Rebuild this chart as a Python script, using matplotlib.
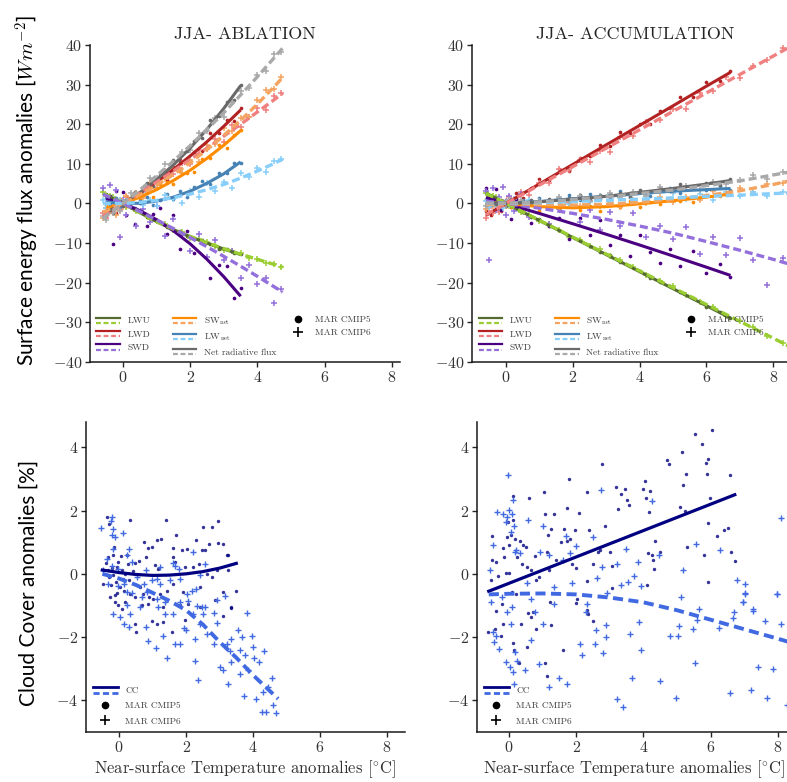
import matplotlib.pyplot as plt
from matplotlib.lines import Line2D
from matplotlib.legend_handler import HandlerBase

# ── Style ─────────────────────────────────────────────────────────────
plt.rcParams.update({
    "font.family": "serif",
    "font.serif": ["cmr10"],
    "mathtext.fontset": "cm",
    "axes.formatter.use_mathtext": True,
    "axes.unicode_minus": True,
    "text.color": "0.2",
    "axes.labelcolor": "0.2",
    "xtick.labelcolor": "0.2",
    "ytick.labelcolor": "0.2",
    "xtick.color": "0.15",
    "ytick.color": "0.15",
    "axes.edgecolor": "0.1",
})

# ── Data: near-surface temperature anomalies (°C) ─────────────────────
abl5_t = [-0.5, -0.4, -0.3, -0.2, -0.1, 0.0, 0.1, 0.2, 0.35, 0.5, 0.7, 0.9, 1.1, 1.3, 1.5, 1.7,
          1.9, 2.1, 2.35, 2.6, 2.85, 3.1, 3.3, 3.5]
abl6_t = [-0.6, -0.5, -0.4, -0.3, -0.2, -0.1, 0.0, 0.1, 0.25, 0.4, 0.6, 0.8, 1.0, 1.25, 1.5, 1.75,
          2.0, 2.25, 2.5, 2.75, 3.0, 3.25, 3.5, 3.75, 4.0, 4.25, 4.5, 4.7]
acc5_t = [-0.6, -0.45, -0.3, -0.15, 0.0, 0.15, 0.3, 0.5, 0.75, 1.0, 1.3, 1.6, 1.9, 2.2, 2.5, 2.8,
          3.1, 3.4, 3.7, 4.0, 4.3, 4.6, 4.9, 5.2, 5.6, 6.0, 6.4, 6.7]
acc6_t = [-0.6, -0.5, -0.4, -0.3, -0.2, -0.1, 0.0, 0.1, 0.25, 0.45, 0.7, 1.0, 1.3, 1.6, 1.9, 2.2,
          2.5, 2.8, 3.1, 3.4, 3.8, 4.2, 4.6, 5.0, 5.4, 5.8, 6.2, 6.6, 7.0, 7.4, 7.8, 8.3]

# ── Surface energy flux anomalies (W m-2), ablation zone ──────────────
abl5_lwu = [2.5, 1.6, 1.45, 0.5, 0.65, 0.0, -0.75, -0.5, -1.7, -2.1, -3.5, -4.0, -4.7, -6.0, -6.6,
            -6.9, -8.15, -9.0, -9.3, -10.2, -11.45, -11.5, -12.45, -12.7]
abl5_lwd = [-3.2, -0.8, -1.1, -2.3, 0.4, -0.2, 2.0, 0.4, 2.1, 1.6, 4.9, 4.5, 6.8, 5.9, 9.1, 10.9,
            10.4, 12.9, 13.3, 17.7, 17.8, 21.1, 20.9, 24.0]
abl5_swd = [-2.3, 2.0, -10.1, 3.1, -0.7, 3.0, -2.8, 0.9, -5.2, 0.2, -5.6, -2.6, -1.1, -7.7, -2.9,
            -11.6, -7.0, -12.4, -9.9, -18.9, -15.6, -15.9, -23.8, -21.4]
abl5_swn = [-0.3, -2.2, -0.3, -1.2, 1.1, -0.3, -0.7, 1.4, 2.3, 1.1, 2.6, 1.7, 4.9, 5.4, 4.9, 8.1,
            7.6, 7.9, 11.2, 11.4, 14.8, 14.1, 17.3, 18.6]
abl5_lwn = [1.4, -0.3, 0.6, 1.4, -0.85, 0.7, -0.3, 1.1, -1.2, 0.55, 1.6, -0.4, 0.95, 2.3, 1.2, 3.05,
            1.7, 4.1, 5.7, 4.8, 7.6, 7.6, 10.3, 10.3]
abl5_net = [-2.65, -1.0, -2.5, -0.65, 0.7, -0.7, 1.0, -0.25, 2.8, 2.55, 5.1, 4.4, 7.1, 7.6, 11.05,
            10.4, 13.3, 15.8, 16.5, 21.0, 22.1, 25.7, 26.2, 29.85]

abl6_lwu = [2.8, 1.87, 1.83, 1.7, 0.67, 0.73, -0.1, -0.86, -0.95, -1.84, -2.46, -3.98, -4.5, -5.15,
            -6.7, -7.2, -8.7, -9.0, -9.6, -10.75, -11.7, -11.9, -12.4, -13.65, -14.0, -15.05, -15.2,
            -16.05]
abl6_lwd = [-2.4, -3.6, -0.8, -2.0, -0.5, -1.7, 0.2, 1.6, 0.6, 2.55, 1.9, 5.2, 5.1, 8.2, 7.4, 10.2,
            10.0, 13.6, 13.8, 16.2, 15.6, 19.7, 19.4, 21.8, 24.2, 23.7, 27.0, 27.9]
abl6_swd = [3.85, -0.04, 4.58, 0.19, 3.29, -8.4, 1.0, -2.9, 0.99, -5.62, -1.45, -4.8, -0.65, -8.23,
            -3.84, -7.96, -12.1, -7.76, -13.44, -9.13, -14.35, -12.08, -18.84, -15.61, -20.4,
            -18.71, -25.04, -21.61]
abl6_swn = [-3.7, -1.1, -1.9, 0.0, -2.8, 0.1, -0.9, 1.8, 0.75, 2.6, 1.4, 5.2, 4.0, 6.1, 8.6, 7.8,
            11.0, 10.4, 14.7, 14.9, 19.0, 18.2, 21.5, 21.7, 26.0, 28.7, 28.8, 31.9]
abl6_lwn = [0.86, -1.26, 0.34, 1.24, -0.65, 0.97, -0.3, 0.64, -0.99, 1.6, -0.45, 0.84, -0.74, 2.18,
            1.06, 0.09, 3.17, 1.6, 5.09, 3.24, 5.33, 3.98, 7.59, 6.74, 9.05, 8.02, 10.73, 11.2]
abl6_net = [-3.2, -4.1, -1.5, -2.35, -0.5, -1.9, 0.3, 0.1, 2.7, 2.5, 3.0, 6.4, 6.45, 10.0, 9.9,
            13.0, 13.6, 17.7, 18.4, 21.5, 21.8, 25.65, 28.3, 29.1, 32.3, 33.5, 37.6, 38.35]

# ── Surface energy flux anomalies (W m-2), accumulation zone ──────────
acc5_lwu = [2.8, 1.8, 1.6, 0.45, 0.1, -0.95, -1.1, -2.15, -3.45, -4.0, -5.7, -6.8, -8.5, -9.25,
            -10.65, -12.25, -13.0, -14.7, -15.9, -17.0, -18.8, -19.7, -20.9, -22.45, -23.8, -26.0,
            -27.4, -28.9]
acc5_lwd = [-1.8, -3.0, -1.0, -2.0, 0.9, 0.3, 2.6, 1.5, 4.0, 6.3, 5.8, 8.7, 8.2, 11.45, 12.0, 14.8,
            14.4, 18.1, 17.7, 20.1, 20.1, 23.4, 24.0, 26.8, 26.8, 30.6, 30.9, 33.5]
acc5_swd = [4.0, -0.4, 3.75, -1.6, 1.0, -3.9, 1.25, -2.26, -4.9, -1.0, -5.8, -3.6, -8.9, -3.65,
            -7.9, -4.2, -10.5, -7.85, -13.2, -8.0, -12.3, -15.1, -11.5, -15.8, -11.9, -17.6, -15.2,
            -18.6]
acc5_swn = [1.1, -0.4, 1.15, -0.2, 0.5, -1.0, 0.16, -0.6, 0.1, -1.8, -0.6, -1.5, -0.2, -1.7, -0.75,
            -2.0, -0.1, -0.9, 0.7, -0.9, 0.45, -0.2, 1.4, 0.6, 0.35, 2.1, 1.8, 2.8]
acc5_lwn = [0.8, -0.33, 0.95, -0.78, 0.3, 1.08, -0.35, 0.85, 0.18, 1.4, 0.0, 1.3, 2.2, 1.0, 2.3,
            1.1, 2.4, 3.1, 1.9, 3.2, 1.8, 3.2, 3.8, 2.7, 4.3, 3.3, 4.3, 3.5]
acc5_net = [-0.3, 0.75, -0.2, 0.85, -0.6, 0.46, -0.68, 0.4, 1.0, 0.0, 1.11, 0.12, 1.33, 2.04, 1.25,
            2.26, 1.4, 2.6, 1.7, 3.5, 2.8, 3.9, 3.1, 4.8, 4.06, 5.2, 4.7, 6.28]

acc6_lwu = [2.75, 1.83, 1.8, 1.58, 0.65, 0.43, 0.2, -0.53, -0.76, -2.21, -2.88, -4.45, -5.23, -6.8,
            -8.38, -9.15, -10.73, -11.6, -13.38, -14.35, -15.95, -18.15, -19.55, -20.95, -23.05,
            -24.85, -26.15, -28.35, -29.65, -31.15, -33.35, -35.18]
acc6_lwd = [-3.7, -1.1, -2.4, -0.6, -2.2, -0.1, -0.7, 1.6, 0.96, 3.0, 2.1, 5.15, 5.25, 8.7, 8.4,
            10.9, 10.5, 13.3, 13.0, 16.7, 17.1, 20.5, 21.1, 23.85, 23.9, 27.8, 28.3, 31.8, 31.65,
            34.8, 36.1, 39.2]
acc6_swd = [3.1, -14.3, 3.9, -1.7, 1.7, 4.1, -3.0, 1.88, -1.8, 2.46, -3.34, -0.2, -5.09, -1.48,
            0.13, -4.8, -1.75, -6.7, -2.17, -5.68, -2.36, -8.56, -5.78, -9.0, -5.84, -12.68, -8.54,
            -12.92, -8.8, -14.22, -20.6, -13.85]
acc6_swn = [-1.3, 0.35, -0.6, 0.95, -0.9, 0.25, -0.6, 0.87, -0.28, -1.24, 0.29, -1.0, -0.13, -1.26,
            0.41, -0.66, 0.7, -0.74, 0.25, -1.0, 0.9, 0.04, 1.62, 0.4, 1.7, 1.0, 3.24, 2.42, 3.8,
            2.94, 4.98, 5.15]
acc6_lwn = [0.6, -0.9, 1.0, -0.4, 0.8, -1.1, 0.3, -0.48, 1.25, -0.11, 0.84, -0.6, 0.69, 1.38,
            -0.13, 1.46, 0.35, 1.84, 0.13, 1.42, 0.04, 1.96, 0.88, 2.6, 1.06, 2.32, 0.96, 2.98, 1.9,
            2.96, 1.82, 2.9]
acc6_net = [-0.6, 0.58, -0.23, 0.95, -0.97, 0.42, -0.5, 0.84, -0.1, 0.78, -0.62, 0.7, -0.02, 1.76,
            0.54, 1.84, 0.55, 1.76, 2.68, 1.52, 2.94, 1.98, 4.04, 3.1, 4.34, 3.38, 5.54, 4.82, 6.0,
            7.3, 6.3, 8.05]

# ── Regression curves ─────────────────────────────────────────────────
abl5_fit_t = [-0.5, 0.0, 0.5, 1.0, 1.5, 2.0, 2.5, 3.0, 3.5]
abl5_lwu_fit = [2.2, 0.0, -2.3, -4.6, -6.6, -8.4, -10.0, -11.5, -12.9]
abl5_lwd_fit = [-2.4, 0.0, 2.6, 5.5, 8.6, 12.0, 15.6, 19.5, 23.6]
abl5_swd_fit = [1.2, 0.0, -1.8, -4.1, -6.9, -10.2, -14.1, -18.5, -23.4]
abl5_swn_fit = [-1.2, 0.0, 1.6, 3.5, 5.8, 8.4, 11.4, 14.7, 18.4]
abl5_lwn_fit = [0.4, 0.0, 0.05, 0.6, 1.6, 3.1, 5.1, 7.5, 10.5]
abl5_net_fit = [-2.25, 0.0, 2.75, 6.0, 9.75, 14.0, 18.75, 24.0, 29.75]

abl6_fit_t = [-0.6, 0.0, 0.5, 1.0, 1.5, 2.0, 2.5, 3.0, 3.5, 4.0, 4.5, 4.75]
abl6_lwu_fit = [2.6, 0.0, -2.3, -4.6, -6.5, -8.3, -9.9, -11.4, -12.8, -14.1, -15.4, -16.1]
abl6_lwd_fit = [-3.2, 0.0, 2.7, 5.4, 8.2, 11.1, 14.0, 17.0, 20.0, 23.1, 26.2, 27.8]
abl6_swd_fit = [2.35, 0.0, -2.04, -4.15, -6.34, -8.6, -10.94, -13.35, -15.84, -18.4, -21.04, -22.38]
abl6_swn_fit = [-2.2, 0.0, 2.2, 4.6, 7.3, 10.3, 13.6, 17.2, 21.0, 25.1, 29.5, 31.8]
abl6_lwn_fit = [0.0, 0.0, 0.27, 0.76, 1.46, 2.37, 3.5, 4.8, 6.4, 8.2, 10.1, 11.2]
abl6_net_fit = [-3.8, 0.0, 3.4, 7.0, 10.7, 14.6, 18.7, 22.9, 27.4, 32.0, 36.8, 39.2]

acc5_fit_t = [-0.6, 0.0, 1.0, 2.0, 3.0, 4.0, 5.0, 6.0, 6.72]
acc5_lwu_fit = [2.6, 0.0, -4.3, -8.6, -12.9, -17.2, -21.5, -25.8, -28.9]
acc5_lwd_fit = [-3.0, 0.0, 4.93, 9.86, 14.8, 19.7, 24.65, 29.6, 33.1]
acc5_swd_fit = [1.5, 0.0, -2.53, -5.12, -7.77, -10.48, -13.25, -16.08, -18.15]
acc5_swn_fit = [0.3, 0.0, -0.8, -1.1, -0.8, -0.1, 0.7, 1.6, 2.4]
acc5_lwn_fit = [0.1, 0.0, 0.5, 1.2, 1.8, 2.5, 3.1, 3.5, 3.8]
acc5_net_fit = [0.2, 0.0, 0.4, 1.1, 1.8, 2.8, 3.8, 4.9, 5.8]

acc6_fit_t = [-0.6, 0.0, 1.0, 2.0, 3.0, 4.0, 5.0, 6.0, 7.0, 8.0, 8.6]
acc6_lwu_fit = [2.55, 0.0, -4.25, -8.5, -12.75, -17.0, -21.25, -25.5, -29.75, -34.0, -36.55]
acc6_lwd_fit = [-2.8, 0.0, 4.65, 9.3, 13.95, 18.6, 23.25, 27.9, 32.55, 37.2, 40.0]
acc6_swd_fit = [0.6, 0.0, -1.2, -2.5, -4.0, -5.7, -7.5, -9.6, -11.8, -14.1, -15.6]
acc6_swn_fit = [-0.3, 0.0, -0.3, -0.4, -0.2, 0.3, 1.0, 2.0, 3.2, 4.8, 5.9]
acc6_lwn_fit = [0.0, 0.0, 0.2, 0.5, 0.8, 1.1, 1.4, 1.8, 2.1, 2.5, 2.7]
acc6_net_fit = [0.1, 0.0, 0.4, 1.0, 1.7, 2.5, 3.4, 4.5, 5.7, 7.2, 8.1]

# ── Cloud cover anomalies (%), (temperature, cloud cover) pairs ───────
cc_abl_cmip5 = [
    (-0.37, 1.81), (-0.29, 1.58), (0.31, 1.71), (1.40, 1.69), (2.94, 1.66), (2.77, 1.48),
    (2.52, 1.48), (1.70, 1.23), (2.30, 1.08), (1.14, 1.08), (1.24, 1.10), (0.73, 1.0),
    (0.87, 0.82), (0.97, 0.86), (-0.15, 0.86), (-0.17, 0.58), (-0.32, 0.53), (-0.47, -0.32),
    (-0.29, -0.11), (1.62, 0.82), (1.87, 0.76), (2.02, 0.79), (2.67, 0.95), (2.96, 0.97),
    (3.11, 0.93), (3.26, 0.58), (3.21, 0.61), (2.47, 0.74), (2.55, 0.76), (0.26, 0.32),
    (0.46, 0.34), (0.59, 0.42), (0.81, 0.53), (1.07, 0.28), (1.17, 0.16), (1.62, 0.53),
    (1.67, 0.37), (1.97, 0.21), (2.22, 0.23), (2.40, 0.32), (2.62, 0.0), (2.77, -0.11),
    (2.91, 0.13), (3.26, 0.11), (3.49, -0.53), (3.33, -1.08), (2.87, -0.84), (3.11, -0.58),
    (0.03, -0.42), (0.13, -0.53), (0.33, -0.63), (0.63, -0.42), (0.88, -0.74), (1.22, -0.63),
    (1.42, -0.53), (1.62, -0.32), (1.92, -0.58), (2.07, -0.95), (2.42, -0.42), (-0.17, -0.05),
    (-0.07, 0.21), (0.08, 0.11), (-0.32, 0.11), (-0.02, 0.37), (0.18, 0.0), (-0.27, -0.74),
    (-0.12, -0.9), (-0.12, -0.68), (-0.02, -1.0), (0.18, -0.9), (0.47, -0.74), (0.72, -0.63),
    (0.87, -0.95), (1.02, -0.79), (1.32, -1.05), (0.68, -0.98), (0.98, -1.49), (1.14, -1.58),
    (1.32, -1.53), (0.47, -1.58), (0.50, -1.84), (0.08, -1.11), (1.97, -1.47), (2.42, -1.05),
    (3.11, -1.32), (3.33, -1.05), (1.82, -1.0), (1.57, -1.84), (-0.22, 0.2), (-0.1, -0.25),
    (0.05, 0.55), (0.12, -0.15), (-0.4, 0.35), (0.22, 0.6), (-0.05, -0.6), (0.3, -0.2),
    (0.4, 0.1), (-0.25, -0.35),
]
cc_abl_cmip6 = [
    (-0.55, 1.46), (-0.22, 1.81), (-0.24, 1.66), (-0.19, 1.42), (-0.22, 1.24), (-0.12, 1.16),
    (0.11, 1.29), (-0.17, 0.79), (0.28, 0.79), (0.23, 0.58), (0.38, 0.37), (-0.37, 0.47),
    (-0.22, 0.26), (-0.02, 0.16), (-0.49, 0.11), (0.81, 0.13), (1.22, 0.21), (1.62, 0.34),
    (1.67, 0.26), (1.80, 0.16), (2.22, 0.69), (2.57, 0.32), (-0.32, -0.32), (-0.02, -0.37),
    (0.13, -0.32), (0.23, -0.58), (0.38, -0.61), (0.53, -0.11), (0.73, -0.32), (0.98, -0.21),
    (1.12, -0.16), (1.22, -0.32), (1.52, -0.21), (1.82, -0.16), (2.02, -0.63), (2.17, -0.53),
    (2.30, -0.47), (2.42, -0.05), (0.68, -0.74), (0.83, -0.58), (1.12, -0.79), (1.37, -0.9),
    (1.82, -0.9), (2.07, -0.87), (2.32, -1.03), (2.47, -1.05), (2.57, -1.05), (2.91, -0.84),
    (3.16, -0.69), (0.63, -1.05), (-0.19, -1.28), (0.03, -1.37), (0.13, -1.58), (0.28, -1.68),
    (0.33, -1.26), (0.23, -1.0), (0.81, -1.68), (0.85, -2.13), (1.10, -2.34), (1.17, -1.05),
    (1.37, -1.26), (1.32, -1.95), (1.42, -2.65), (1.62, -1.28), (1.67, -2.21), (1.82, -2.23),
    (1.94, -1.71), (2.0, -1.77), (2.22, -1.26), (2.27, -2.05), (2.27, -2.74), (2.37, -3.37),
    (2.42, -1.58), (2.52, -1.26), (2.62, -1.89), (2.82, -1.24), (2.84, -2.21), (2.93, -1.56),
    (3.01, -2.95), (3.11, -3.05), (3.21, -2.21), (3.26, -3.47), (3.31, -2.44), (3.33, -2.05),
    (3.33, -2.79), (3.56, -1.79), (3.61, -2.42), (3.66, -2.0), (3.81, -1.24), (3.76, -2.58),
    (3.73, -3.87), (3.96, -1.95), (4.01, -2.32), (4.04, -2.65), (4.09, -3.95), (4.19, -2.79),
    (4.33, -2.44), (4.29, -3.74), (4.26, -4.37), (4.39, -4.37), (4.46, -3.58), (4.58, -3.28),
    (4.59, -4.16), (4.69, -4.40), (3.86, -3.05), (3.61, -3.16),
]
cc_acc_cmip5 = [
    (-0.54, -0.19), (-0.51, 0.44), (-0.49, 1.19), (-0.39, 0.37), (-0.32, -0.07), (-0.17, 0.82),
    (-0.15, 0.53), (-0.09, 0.02), (-0.07, 1.18), (-0.02, 1.64), (-0.01, 0.02), (0.01, 0.90),
    (0.05, 1.24), (0.11, 2.45), (0.13, 1.71), (0.18, 1.11), (0.25, 0.53), (0.33, 1.05),
    (0.38, 0.30), (0.43, 0.90), (0.51, 0.84), (0.55, 0.21), (0.60, 2.41), (0.67, 0.11),
    (0.77, 0.55), (0.82, -0.19), (0.90, -0.11), (1.04, 2.58), (1.07, 1.90), (1.14, 0.69),
    (1.17, 1.24), (1.20, 0.11), (1.24, 1.42), (1.34, 1.88), (1.40, 0.44), (1.54, 1.02),
    (1.65, 1.42), (1.72, 1.05), (1.74, 2.08), (1.78, 3.01), (1.82, 1.11), (1.87, 0.30),
    (1.98, 1.40), (2.01, 0.19), (2.09, 1.93), (2.31, -0.23), (2.33, 2.58), (2.39, 1.40),
    (2.51, 0.30), (2.66, 0.69), (2.71, 0.74), (2.78, 3.46), (2.86, 1.50), (3.01, 0.69),
    (3.06, 0.26), (3.08, -0.45), (3.20, 2.74), (3.25, 2.06), (3.32, 2.53), (3.45, 2.69),
    (3.50, 2.34), (3.58, 2.16), (4.0, 2.69), (4.04, 2.93), (4.08, 2.41), (4.10, -0.34),
    (4.15, 0.65), (4.18, 1.95), (4.20, 2.62), (4.25, 0.58), (4.30, 0.44), (4.32, 0.16),
    (4.35, 1.05), (4.49, 0.69), (4.69, 3.61), (4.77, 3.48), (5.09, 2.11), (5.16, 3.85),
    (5.19, 2.80), (5.24, 2.0), (5.27, 3.14), (5.29, 0.84), (5.54, 4.41), (5.73, 4.09),
    (5.80, 0.61), (5.86, 3.50), (5.90, 3.16), (5.91, 1.60), (5.93, 3.64), (5.98, 2.41),
    (6.03, 4.56), (6.20, 1.21), (6.40, 1.39), (6.53, 1.46), (6.58, 3.11), (6.60, 0.69),
    (6.73, 0.39), (5.91, -0.26), (-0.62, -1.84), (-0.42, -1.74), (-0.37, -1.16), (-0.22, -0.95),
    (-0.19, -1.58), (-0.25, -1.97), (0.11, -2.18), (0.15, -2.42), (0.31, -2.82), (0.35, -1.6),
    (0.21, -0.63), (0.08, -0.58), (0.55, -2.32), (0.58, -1.24), (0.67, -1.37), (0.80, -1.74),
    (1.07, -2.82), (1.12, -3.24), (1.24, -1.63), (1.22, -0.89), (1.60, -2.42), (2.0, -0.93),
    (2.04, -0.79), (2.31, -1.14), (2.36, -1.26), (2.49, -1.49), (0.72, -1.21),
]
cc_acc_cmip6 = [
    (-0.57, 0.13), (-0.47, 0.90), (-0.35, 1.95), (-0.19, 1.90), (-0.09, 1.64), (-0.05, 1.79),
    (-0.02, 3.13), (0.01, 2.03), (0.05, 1.32), (0.08, 1.90), (0.13, 2.34), (0.15, 1.50),
    (0.18, 0.69), (0.22, 0.76), (0.33, 0.65), (0.55, -0.30), (0.58, 1.69), (0.67, -0.79),
    (0.92, 0.69), (1.02, 1.50), (1.20, 0.58), (1.34, -0.42), (1.62, 0.44), (1.70, 1.21),
    (1.82, 0.65), (1.87, -0.30), (2.0, 0.87), (2.31, -0.95), (2.51, 1.18), (2.61, -0.13),
    (2.73, 2.66), (2.76, 0.21), (2.91, -0.61), (3.23, 0.30), (3.32, -0.34), (3.48, 0.79),
    (3.55, -0.26), (3.72, -0.08), (3.85, 0.37), (3.92, -0.40), (4.25, 2.30), (4.47, 0.61),
    (5.17, 0.13), (5.57, 0.95), (6.28, 0.76), (6.80, -0.21), (7.02, -0.32), (7.02, -0.61),
    (6.95, -0.90), (7.97, -0.63), (8.09, 1.77), (-0.52, -0.89), (-0.47, -1.84), (-0.45, -2.16),
    (-0.39, -1.98), (-0.29, -2.37), (-0.22, -0.74), (-0.09, -2.79), (-0.05, -1.21), (0.03, -2.95),
    (0.05, -1.58), (0.08, -1.05), (0.11, -3.11), (0.15, -3.47), (0.18, -2.47), (0.25, -2.76),
    (0.48, -3.05), (0.67, -2.08), (0.77, -1.21), (0.90, -2.84), (1.02, -1.58), (1.20, -3.58),
    (1.34, -0.95), (1.50, -3.28), (1.72, -3.49), (2.11, -2.23), (2.16, -2.58), (2.29, -1.21),
    (2.56, -2.21), (2.59, -1.77), (2.79, -2.51), (2.89, -2.0), (2.89, -1.63), (3.22, -3.95),
    (3.38, -4.21), (3.60, -1.89), (3.65, -3.28), (3.88, -1.53), (3.92, -2.40), (4.50, -3.39),
    (4.78, -1.98), (4.97, -3.92), (5.04, -1.95), (5.07, -1.66), (5.11, -0.74), (5.47, -1.74),
    (5.54, -2.82), (5.61, -1.45), (5.66, -1.10), (6.26, -1.71), (6.58, -3.77), (6.66, -1.39),
    (6.70, -1.21), (6.95, -0.89), (7.02, -0.65), (7.19, -3.66), (7.25, -1.10), (7.27, -1.17),
    (7.42, -2.93), (7.62, -1.49), (7.67, -3.92), (7.85, -3.02), (7.97, -0.63), (8.09, -1.58),
    (8.26, -4.16),
]

cc_abl5_fit_t = [-0.5, 0.0, 0.5, 1.0, 1.5, 2.0, 2.5, 3.0, 3.5]
cc_abl5_fit = [0.12, 0.04, -0.02, -0.05, -0.04, 0.0, 0.07, 0.18, 0.33]
cc_abl6_fit_t = [-0.5, 0.0, 0.5, 1.0, 1.5, 2.0, 2.5, 3.0, 3.5, 4.0, 4.5, 4.75]
cc_abl6_fit = [0.0, -0.15, -0.35, -0.6, -0.85, -1.15, -1.6, -2.15, -2.65, -3.2, -3.7, -3.95]
cc_acc5_fit_t = [-0.6, 6.72]
cc_acc5_fit = [-0.55, 2.5]
cc_acc6_fit_t = [-0.6, 0.0, 1.0, 2.0, 3.0, 4.0, 5.0, 6.0, 7.0, 8.0, 8.8]
cc_acc6_fit = [-0.65, -0.63, -0.62, -0.65, -0.75, -0.9, -1.15, -1.45, -1.75, -2.05, -2.3]

# variable name, CMIP5 colour, CMIP6 colour
flux_vars = [
    ("LWU", "darkolivegreen", "yellowgreen"),
    ("LWD", "firebrick", "lightcoral"),
    ("SWD", "indigo", "mediumpurple"),
    (r"SW$_{\mathrm{net}}$", "darkorange", "sandybrown"),
    (r"LW$_{\mathrm{net}}$", "steelblue", "lightskyblue"),
    ("Net radiative flux", "dimgray", "darkgray"),
]

DASH = (0, (2.4, 1.2))


class PairHandler(HandlerBase):
    """Legend key with the CMIP5 solid line stacked above the CMIP6 dashed line."""

    def create_artists(self, legend, orig_handle, xdescent, ydescent,
                       width, height, fontsize, trans):
        solid, dashed = orig_handle
        x = [-xdescent, -xdescent + width]
        top = Line2D(x, [height * 0.85 - ydescent] * 2, color=solid.get_color(),
                     lw=solid.get_linewidth(), transform=trans)
        bot = Line2D(x, [height * 0.05 - ydescent] * 2, color=dashed.get_color(),
                     lw=dashed.get_linewidth(), ls=(0, (2.2, 1.2)), transform=trans)
        return [top, bot]


def pair(c5, c6, lw=1.6):
    return (Line2D([], [], color=c5, lw=lw), Line2D([], [], color=c6, lw=lw))


def marker_handles():
    return [Line2D([], [], ls="", marker="o", color="black", markersize=4.5),
            Line2D([], [], ls="", marker="+", color="black", markersize=7, mew=1.2)]


def style_axes(ax):
    for side in ("top", "right"):
        ax.spines[side].set_visible(False)
    for side in ("left", "bottom"):
        ax.spines[side].set_linewidth(1.1)
    ax.tick_params(labelsize=11.5, length=3.5, width=1, pad=2)
    ax.set_xticks([0, 2, 4, 6, 8])


def flux_panel(ax, t5, t6, ys5, ys6, ft5, ft6, fits5, fits6, title, xlim):
    for (name, c5, c6), y5, y6 in zip(flux_vars, ys5, ys6):
        ax.scatter(t5, y5, s=7, color=c5, lw=0, zorder=2)
        ax.scatter(t6, y6, s=24, marker="+", color=c6, lw=1.1, zorder=2)
    for (name, c5, c6), f5, f6 in zip(flux_vars, fits5, fits6):
        ax.plot(ft5, f5, color=c5, lw=2.2, zorder=3, solid_capstyle="butt")
        ax.plot(ft6, f6, color=c6, lw=2.4, ls=DASH, zorder=4)
    ax.set_xlim(*xlim)
    ax.set_ylim(-40, 40)
    ax.set_yticks(range(-40, 41, 10))
    ax.set_title(title, fontsize=13, pad=4, color="0.15")
    style_axes(ax)

    leg = ax.legend([pair(c5, c6) for _, c5, c6 in flux_vars], [v[0] for v in flux_vars],
                    handler_map={tuple: PairHandler()}, ncol=2, frameon=False,
                    loc="upper left", bbox_to_anchor=(0.02, 0.147), fontsize=6.8,
                    handlelength=2.5, handletextpad=0.8, columnspacing=2.4,
                    labelspacing=0.5, borderpad=0, borderaxespad=0, labelcolor="0.25")
    ax.add_artist(leg)
    ax.legend(marker_handles(), ["MAR CMIP5", "MAR CMIP6"], frameon=False,
              loc="upper left", bbox_to_anchor=(0.64, 0.147), fontsize=6.8,
              handlelength=2.0, handletextpad=0.8, labelspacing=0.5,
              borderpad=0, borderaxespad=0, labelcolor="0.25")


def cloud_panel(ax, pts5, pts6, ft5, f5, ft6, f6, xlim, label_x):
    t5, c5 = zip(*pts5)
    t6, c6 = zip(*pts6)
    ax.scatter(t5, c5, s=6, color="navy", alpha=0.8, lw=0, zorder=2)
    ax.scatter(t6, c6, s=20, marker="+", color="royalblue", lw=1.0, zorder=2)
    ax.plot(ft5, f5, color="navy", lw=2.3, zorder=3)
    ax.plot(ft6, f6, color="royalblue", lw=2.8, ls=(0, (2.6, 1.4)), zorder=4)
    ax.set_xlim(*xlim)
    ax.set_ylim(-5, 4.8)
    ax.set_yticks([-4, -2, 0, 2, 4])
    ax.set_xlabel(r"Near-surface Temperature anomalies [$^{\circ}$C]", fontsize=12)
    ax.xaxis.set_label_coords(label_x, -0.085)
    style_axes(ax)
    ax.legend([pair("navy", "royalblue", lw=2.0)] + marker_handles(),
              ["CC", "MAR CMIP5", "MAR CMIP6"], handler_map={tuple: PairHandler()},
              frameon=False, loc="upper left", bbox_to_anchor=(0.022, 0.147),
              fontsize=6.8, handlelength=2.6, handletextpad=0.8, labelspacing=0.7,
              borderpad=0, borderaxespad=0, labelcolor="0.25")


fig = plt.figure(figsize=(7.87, 7.82), dpi=100)
ax_abl = fig.add_axes([0.1144, 0.5371, 0.3939, 0.4054])
ax_acc = fig.add_axes([0.5997, 0.5371, 0.4155, 0.4054])
ax_cc_abl = fig.add_axes([0.1093, 0.0639, 0.4053, 0.3965])
ax_cc_acc = fig.add_axes([0.6061, 0.0639, 0.4168, 0.3965])

flux_panel(ax_abl, abl5_t, abl6_t,
           [abl5_lwu, abl5_lwd, abl5_swd, abl5_swn, abl5_lwn, abl5_net],
           [abl6_lwu, abl6_lwd, abl6_swd, abl6_swn, abl6_lwn, abl6_net],
           abl5_fit_t, abl6_fit_t,
           [abl5_lwu_fit, abl5_lwd_fit, abl5_swd_fit, abl5_swn_fit, abl5_lwn_fit, abl5_net_fit],
           [abl6_lwu_fit, abl6_lwd_fit, abl6_swd_fit, abl6_swn_fit, abl6_lwn_fit, abl6_net_fit],
           "JJA- ABLATION", (-0.98, 8.24))
flux_panel(ax_acc, acc5_t, acc6_t,
           [acc5_lwu, acc5_lwd, acc5_swd, acc5_swn, acc5_lwn, acc5_net],
           [acc6_lwu, acc6_lwd, acc6_swd, acc6_swn, acc6_lwn, acc6_net],
           acc5_fit_t, acc6_fit_t,
           [acc5_lwu_fit, acc5_lwd_fit, acc5_swd_fit, acc5_swn_fit, acc5_lwn_fit, acc5_net_fit],
           [acc6_lwu_fit, acc6_lwd_fit, acc6_swd_fit, acc6_swn_fit, acc6_lwn_fit, acc6_net_fit],
           "JJA- ACCUMULATION", (-1.02, 8.77))

cloud_panel(ax_cc_abl, cc_abl_cmip5, cc_abl_cmip6, cc_abl5_fit_t, cc_abl5_fit,
            cc_abl6_fit_t, cc_abl6_fit, (-0.99, 8.54), 0.5)
cloud_panel(ax_cc_acc, cc_acc_cmip5, cc_acc_cmip6, cc_acc5_fit_t, cc_acc5_fit,
            cc_acc6_fit_t, cc_acc6_fit, (-0.95, 8.81), 0.48)

fig.text(0.036, 0.757, r"Surface energy flux anomalies [$Wm^{-2}$]", rotation=90,
         ha="center", va="center", fontsize=15, family="Lato", color="black")
fig.text(0.036, 0.254, "Cloud Cover anomalies [%]", rotation=90,
         ha="center", va="center", fontsize=15, family="Lato", color="black")

fig.savefig("out.png", dpi=100)
